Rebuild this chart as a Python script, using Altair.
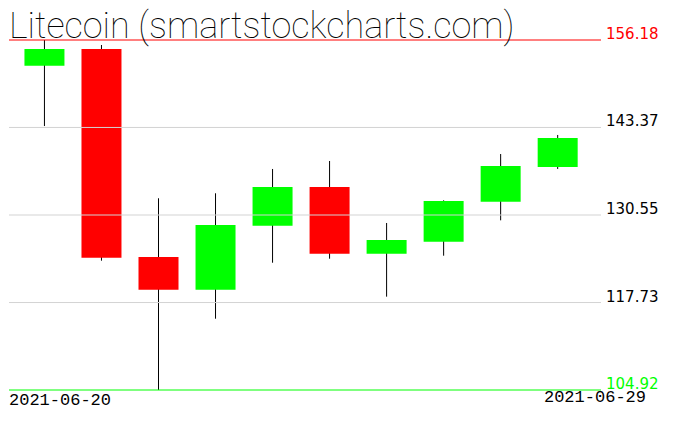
import altair as alt
import pandas as pd

dates = ["2021-06-20", "2021-06-21", "2021-06-22", "2021-06-23", "2021-06-24",
         "2021-06-25", "2021-06-26", "2021-06-27", "2021-06-28", "2021-06-29"]
opens = [152.42, 154.86, 124.40, 119.61, 128.98, 134.65, 124.88, 126.64, 132.50, 137.58]
closes = [154.86, 124.30, 119.61, 129.09, 134.65, 124.88, 126.89, 132.60, 137.73, 141.83]
highs = [156.18, 155.45, 133.00, 133.73, 137.29, 138.46, 129.38, 132.70, 139.48, 142.27]
lows = [143.58, 123.86, 104.92, 115.36, 123.56, 124.15, 118.59, 124.59, 129.77, 137.29]

levels = [156.18, 143.37, 130.55, 117.73, 104.92]
level_line_colors = ["#ff0000", "#d3d3d3", "#d3d3d3", "#d3d3d3", "#00ff00"]
level_text_colors = ["#ff0000", "#000000", "#000000", "#000000", "#00ff00"]
title_text = "Litecoin (smartstockcharts.com)"

df = pd.DataFrame({
    "date": dates,
    "i": list(range(len(dates))),
    "open": opens,
    "close": closes,
    "high": highs,
    "low": lows,
})
df["dir"] = ["up" if c >= o else "down" for o, c in zip(opens, closes)]

lv = pd.DataFrame({
    "value": levels,
    "label": [f"{v:.2f}" for v in levels],
    "line": level_line_colors,
    "tcol": level_text_colors,
})

ysc = alt.Scale(domain=[104.92, 160.867], nice=False, zero=False)
xsc = alt.Scale(domain=[-0.534, 9.672], nice=False, zero=False)

wicks = alt.Chart(df).mark_rule(color="black", strokeWidth=1).encode(
    x=alt.X("i:Q", scale=xsc, axis=None),
    y=alt.Y("low:Q", scale=ysc, axis=None),
    y2="high:Q",
)

bodies = alt.Chart(df).mark_bar(size=40).encode(
    x=alt.X("i:Q", scale=xsc, axis=None),
    y=alt.Y("open:Q", scale=ysc, axis=None),
    y2="close:Q",
    color=alt.Color("dir:N", scale=alt.Scale(domain=["up", "down"], range=["#00ff00", "#ff0000"]), legend=None),
)

lines = alt.Chart(lv).mark_rule(strokeWidth=1).encode(
    y=alt.Y("value:Q", scale=ysc, axis=None),
    color=alt.Color("line:N", scale=None),
)

labels = alt.Chart(lv).mark_text(align="left", baseline="alphabetic", font="DejaVu Sans",
                                 fontSize=15, dy=-1).encode(
    x=alt.value(597),
    y=alt.Y("value:Q", scale=ysc, axis=None),
    text="label:N",
    color=alt.Color("tcol:N", scale=None),
)

title = alt.Chart(pd.DataFrame({"t": [title_text]})).mark_text(
    align="left", baseline="alphabetic", font="Roboto", fontSize=36,
    fontWeight=100, color="black").encode(
    x=alt.value(0), y=alt.value(30), text="t:N")

d_first = alt.Chart(pd.DataFrame({"t": [dates[0]]})).mark_text(
    align="left", baseline="alphabetic", font="Liberation Mono", fontSize=17,
    color="black").encode(x=alt.value(0), y=alt.value(397), text="t:N")

d_last = alt.Chart(pd.DataFrame({"t": [dates[-1]]})).mark_text(
    align="right", baseline="alphabetic", font="Liberation Mono", fontSize=17,
    color="black").encode(x=alt.value(637), y=alt.value(394), text="t:N")

chart = alt.layer(wicks, bodies, lines, labels, title, d_first, d_last).properties(
    width=592, height=382, background="white",
    padding={"left": 0, "top": 0, "right": 4, "bottom": 8}
).configure_view(strokeWidth=0)

chart.save("out.html", embed_options={"renderer": "svg", "actions": False})
